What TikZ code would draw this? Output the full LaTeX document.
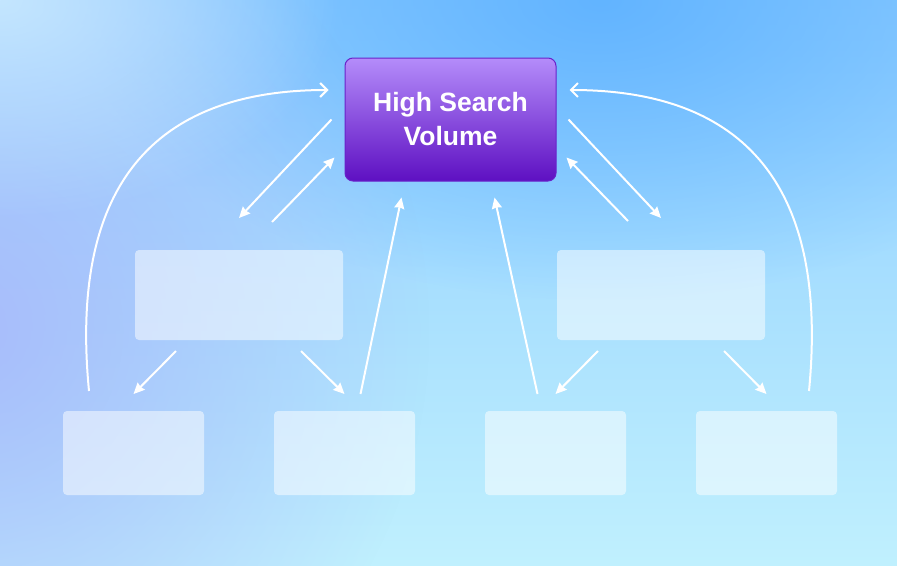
\documentclass[tikz,border=0pt]{standalone}
\usepackage{fontspec}
\setmainfont{Liberation Sans}
\usetikzlibrary{
    arrows.meta,
    calc,
    fadings
}

\definecolor{bgTop}{HTML}{8ECDFF}
\definecolor{bgMid}{HTML}{A6DDFE}
\definecolor{bgBottom}{HTML}{C0F0FE}
\definecolor{bgLight}{HTML}{C4E6FF}
\definecolor{bgLavender}{HTML}{A8BCFB}
\definecolor{bgDeep}{HTML}{62B4FF}
\definecolor{hubTop}{HTML}{B48CFA}
\definecolor{hubBottom}{HTML}{5E10C2}
\definecolor{hubEdge}{HTML}{6A22C9}

\tikzfading[name=blobfade, inner color=transparent!0, outer color=transparent!100]

\begin{document}
\begin{tikzpicture}[x=1pt,y=-1pt,line width=2pt,>={Stealth[length=11pt,width=10pt,inset=1pt]}]
    \tikzstyle{hub}=[rectangle, rounded corners=8pt, draw=hubEdge, line width=1pt, top color=hubTop, bottom color=hubBottom, minimum width=211pt, minimum height=123pt, text=white, font=\fontsize{26.5}{34}\selectfont\bfseries, align=center]
    \tikzstyle{card}=[rectangle, rounded corners=4pt, fill=white, fill opacity=0.5, minimum width=208pt, minimum height=90pt]
    \tikzstyle{leaf}=[card, minimum width=141pt, minimum height=84pt]
    \tikzstyle{flow}=[draw=white, ->]
    \tikzstyle{loop}=[draw=white, -{Straight Barb[length=7pt,width=14pt]}]

    % background
    \useasboundingbox (0,0) rectangle (897,565);
    \begin{scope}
        \clip (0,0) rectangle (897,565);
        \shade[top color=bgTop, middle color=bgMid, bottom color=bgBottom] (0,0) rectangle (897,565);
        \fill[bgDeep, path fading=blobfade] (600,0) ellipse (520 and 300);
        \fill[bgLavender, path fading=blobfade] (-30,330) ellipse (460 and 480);
        \fill[bgLight, path fading=blobfade] (0,0) ellipse (340 and 220);
    \end{scope}

    \node[hub] (main) at (450.5,119.5) {High Search\\Volume};
    \node[card] (midL) at (239,295) {};
    \node[card] (midR) at (661,295) {};
    \node[leaf] (b1) at (133.5,453) {};
    \node[leaf] (b2) at (344.5,453) {};
    \node[leaf] (b3) at (555.5,453) {};
    \node[leaf] (b4) at (766.5,453) {};

    % main <-> middle
    \draw[flow] ($(main.west)+(-13,0)$) -- ($(midL.north)+(0,-31)$);
    \draw[flow] ($(midL.north)+(33,-27)$) -- ($(main.south west)+(-10,-24)$);
    \draw[flow] ($(main.east)+(12,0)$) -- ($(midR.north)+(0,-31)$);
    \draw[flow] ($(midR.north)+(-33,-28)$) -- ($(main.south east)+(10,-24)$);

    % middle -> bottom
    \draw[flow] ($(midL.south)+(-63,10)$) -- ($(b1.north)+(0,-16)$);
    \draw[flow] ($(midL.south)+(62,10)$) -- ($(b2.north)+(0,-16)$);
    \draw[flow] ($(midR.south)+(-63,10)$) -- ($(b3.north)+(0,-16)$);
    \draw[flow] ($(midR.south)+(63,10)$) -- ($(b4.north)+(0,-16)$);

    % bottom -> main
    \draw[flow] ($(b2.north)+(16,-16)$) -- ($(main.south)+(-49,16)$);
    \draw[flow] ($(b3.north)+(-18,-16)$) -- ($(main.south)+(44,16)$);
    \draw[loop] ($(b1.north)+(-44.5,-19)$) .. controls +(-21,-217) and +(-164,0) .. ($(main.west)+(-16,-29.5)$);
    \draw[loop] ($(b4.north)+(42.5,-19)$) .. controls +(21,-217) and +(164,0) .. ($(main.east)+(13,-29.5)$);
\end{tikzpicture}
\end{document}
